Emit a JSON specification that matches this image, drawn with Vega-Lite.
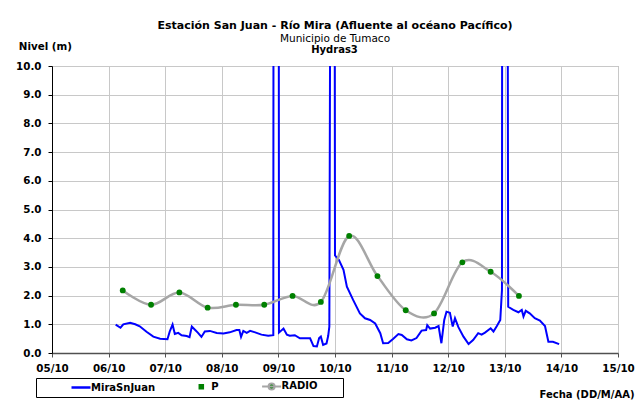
{
  "$schema": "https://vega.github.io/schema/vega-lite/v6.json",
  "width": 566,
  "height": 287,
  "autosize": {"type": "none"},
  "padding": {"left": 52, "top": 66, "right": 25, "bottom": 53},
  "background": "white",
  "title": {
    "text": "Estación San Juan  - Río Mira (Afluente al océano Pacífico)",
    "subtitle": "Municipio de Tumaco",
    "anchor": "middle",
    "frame": "group",
    "offset": -3,
    "font": "DejaVu Sans",
    "fontSize": 11,
    "fontWeight": "bold",
    "color": "#000000",
    "subtitleFont": "DejaVu Sans",
    "subtitleFontSize": 10.5,
    "subtitleColor": "#000000",
    "subtitlePadding": 3
  },
  "data": {
    "values": [
      {"serie": "MiraSnJuan", "dia": 6.125, "nivel": 0.99},
      {"serie": "MiraSnJuan", "dia": 6.21, "nivel": 0.88},
      {"serie": "MiraSnJuan", "dia": 6.26, "nivel": 1.0},
      {"serie": "MiraSnJuan", "dia": 6.38, "nivel": 1.05},
      {"serie": "MiraSnJuan", "dia": 6.47, "nivel": 1.0},
      {"serie": "MiraSnJuan", "dia": 6.55, "nivel": 0.93},
      {"serie": "MiraSnJuan", "dia": 6.67, "nivel": 0.74},
      {"serie": "MiraSnJuan", "dia": 6.79, "nivel": 0.57},
      {"serie": "MiraSnJuan", "dia": 6.91, "nivel": 0.5},
      {"serie": "MiraSnJuan", "dia": 7.04, "nivel": 0.48},
      {"serie": "MiraSnJuan", "dia": 7.08, "nivel": 0.75},
      {"serie": "MiraSnJuan", "dia": 7.13, "nivel": 0.99},
      {"serie": "MiraSnJuan", "dia": 7.17, "nivel": 0.66},
      {"serie": "MiraSnJuan", "dia": 7.23, "nivel": 0.7},
      {"serie": "MiraSnJuan", "dia": 7.29, "nivel": 0.62},
      {"serie": "MiraSnJuan", "dia": 7.38, "nivel": 0.59},
      {"serie": "MiraSnJuan", "dia": 7.43, "nivel": 0.55},
      {"serie": "MiraSnJuan", "dia": 7.47, "nivel": 0.92},
      {"serie": "MiraSnJuan", "dia": 7.53, "nivel": 0.8},
      {"serie": "MiraSnJuan", "dia": 7.58, "nivel": 0.7},
      {"serie": "MiraSnJuan", "dia": 7.64, "nivel": 0.56},
      {"serie": "MiraSnJuan", "dia": 7.7, "nivel": 0.75},
      {"serie": "MiraSnJuan", "dia": 7.79, "nivel": 0.77},
      {"serie": "MiraSnJuan", "dia": 7.91, "nivel": 0.7},
      {"serie": "MiraSnJuan", "dia": 8.03, "nivel": 0.68},
      {"serie": "MiraSnJuan", "dia": 8.14, "nivel": 0.72},
      {"serie": "MiraSnJuan", "dia": 8.26, "nivel": 0.8},
      {"serie": "MiraSnJuan", "dia": 8.31, "nivel": 0.8},
      {"serie": "MiraSnJuan", "dia": 8.34, "nivel": 0.56},
      {"serie": "MiraSnJuan", "dia": 8.38, "nivel": 0.77},
      {"serie": "MiraSnJuan", "dia": 8.44, "nivel": 0.7},
      {"serie": "MiraSnJuan", "dia": 8.5, "nivel": 0.77},
      {"serie": "MiraSnJuan", "dia": 8.59, "nivel": 0.72},
      {"serie": "MiraSnJuan", "dia": 8.7, "nivel": 0.64},
      {"serie": "MiraSnJuan", "dia": 8.82, "nivel": 0.6},
      {"serie": "MiraSnJuan", "dia": 8.91, "nivel": 0.62},
      {"serie": "MiraSnJuan", "dia": 8.915, "nivel": 20},
      {"serie": "MiraSnJuan", "dia": 9.005, "nivel": 20},
      {"serie": "MiraSnJuan", "dia": 9.01, "nivel": 0.71},
      {"serie": "MiraSnJuan", "dia": 9.09, "nivel": 0.85},
      {"serie": "MiraSnJuan", "dia": 9.15, "nivel": 0.64},
      {"serie": "MiraSnJuan", "dia": 9.2, "nivel": 0.6},
      {"serie": "MiraSnJuan", "dia": 9.29, "nivel": 0.62},
      {"serie": "MiraSnJuan", "dia": 9.38, "nivel": 0.51},
      {"serie": "MiraSnJuan", "dia": 9.56, "nivel": 0.51},
      {"serie": "MiraSnJuan", "dia": 9.62, "nivel": 0.24},
      {"serie": "MiraSnJuan", "dia": 9.68, "nivel": 0.23},
      {"serie": "MiraSnJuan", "dia": 9.72, "nivel": 0.52},
      {"serie": "MiraSnJuan", "dia": 9.75, "nivel": 0.57},
      {"serie": "MiraSnJuan", "dia": 9.79, "nivel": 0.28},
      {"serie": "MiraSnJuan", "dia": 9.85, "nivel": 0.33},
      {"serie": "MiraSnJuan", "dia": 9.88, "nivel": 0.6},
      {"serie": "MiraSnJuan", "dia": 9.9, "nivel": 0.92},
      {"serie": "MiraSnJuan", "dia": 9.925, "nivel": 20},
      {"serie": "MiraSnJuan", "dia": 9.99, "nivel": 20},
      {"serie": "MiraSnJuan", "dia": 10.0, "nivel": 3.4},
      {"serie": "MiraSnJuan", "dia": 10.07, "nivel": 3.24},
      {"serie": "MiraSnJuan", "dia": 10.15, "nivel": 2.9},
      {"serie": "MiraSnJuan", "dia": 10.21, "nivel": 2.31},
      {"serie": "MiraSnJuan", "dia": 10.32, "nivel": 1.85},
      {"serie": "MiraSnJuan", "dia": 10.44, "nivel": 1.38},
      {"serie": "MiraSnJuan", "dia": 10.53, "nivel": 1.21},
      {"serie": "MiraSnJuan", "dia": 10.62, "nivel": 1.15},
      {"serie": "MiraSnJuan", "dia": 10.71, "nivel": 1.03},
      {"serie": "MiraSnJuan", "dia": 10.8, "nivel": 0.69},
      {"serie": "MiraSnJuan", "dia": 10.85, "nivel": 0.34},
      {"serie": "MiraSnJuan", "dia": 10.94, "nivel": 0.35},
      {"serie": "MiraSnJuan", "dia": 11.03, "nivel": 0.5},
      {"serie": "MiraSnJuan", "dia": 11.12, "nivel": 0.66},
      {"serie": "MiraSnJuan", "dia": 11.18, "nivel": 0.63},
      {"serie": "MiraSnJuan", "dia": 11.27, "nivel": 0.48},
      {"serie": "MiraSnJuan", "dia": 11.35, "nivel": 0.44},
      {"serie": "MiraSnJuan", "dia": 11.44, "nivel": 0.52},
      {"serie": "MiraSnJuan", "dia": 11.53, "nivel": 0.78},
      {"serie": "MiraSnJuan", "dia": 11.61, "nivel": 0.8},
      {"serie": "MiraSnJuan", "dia": 11.63, "nivel": 0.97},
      {"serie": "MiraSnJuan", "dia": 11.68, "nivel": 0.85},
      {"serie": "MiraSnJuan", "dia": 11.77, "nivel": 0.88},
      {"serie": "MiraSnJuan", "dia": 11.83, "nivel": 0.94},
      {"serie": "MiraSnJuan", "dia": 11.86, "nivel": 0.57},
      {"serie": "MiraSnJuan", "dia": 11.88, "nivel": 0.34},
      {"serie": "MiraSnJuan", "dia": 11.93, "nivel": 1.15},
      {"serie": "MiraSnJuan", "dia": 11.97, "nivel": 1.44},
      {"serie": "MiraSnJuan", "dia": 12.03, "nivel": 1.4},
      {"serie": "MiraSnJuan", "dia": 12.08, "nivel": 0.92},
      {"serie": "MiraSnJuan", "dia": 12.12, "nivel": 1.21},
      {"serie": "MiraSnJuan", "dia": 12.18, "nivel": 0.9},
      {"serie": "MiraSnJuan", "dia": 12.27, "nivel": 0.57},
      {"serie": "MiraSnJuan", "dia": 12.36, "nivel": 0.31},
      {"serie": "MiraSnJuan", "dia": 12.44, "nivel": 0.45},
      {"serie": "MiraSnJuan", "dia": 12.53, "nivel": 0.69},
      {"serie": "MiraSnJuan", "dia": 12.59, "nivel": 0.64},
      {"serie": "MiraSnJuan", "dia": 12.65, "nivel": 0.71},
      {"serie": "MiraSnJuan", "dia": 12.75, "nivel": 0.86},
      {"serie": "MiraSnJuan", "dia": 12.8, "nivel": 0.75},
      {"serie": "MiraSnJuan", "dia": 12.86, "nivel": 0.94},
      {"serie": "MiraSnJuan", "dia": 12.92, "nivel": 1.15},
      {"serie": "MiraSnJuan", "dia": 12.95, "nivel": 2.2},
      {"serie": "MiraSnJuan", "dia": 12.955, "nivel": 20},
      {"serie": "MiraSnJuan", "dia": 13.045, "nivel": 20},
      {"serie": "MiraSnJuan", "dia": 13.06, "nivel": 1.61},
      {"serie": "MiraSnJuan", "dia": 13.15, "nivel": 1.5},
      {"serie": "MiraSnJuan", "dia": 13.24, "nivel": 1.42},
      {"serie": "MiraSnJuan", "dia": 13.3, "nivel": 1.5},
      {"serie": "MiraSnJuan", "dia": 13.33, "nivel": 1.27},
      {"serie": "MiraSnJuan", "dia": 13.37, "nivel": 1.47},
      {"serie": "MiraSnJuan", "dia": 13.44, "nivel": 1.38},
      {"serie": "MiraSnJuan", "dia": 13.53, "nivel": 1.21},
      {"serie": "MiraSnJuan", "dia": 13.62, "nivel": 1.13},
      {"serie": "MiraSnJuan", "dia": 13.71, "nivel": 0.94},
      {"serie": "MiraSnJuan", "dia": 13.77, "nivel": 0.39},
      {"serie": "MiraSnJuan", "dia": 13.85, "nivel": 0.39},
      {"serie": "MiraSnJuan", "dia": 13.96, "nivel": 0.31},
      {"serie": "RADIO", "dia": 6.25, "nivel": 2.18},
      {"serie": "RADIO", "dia": 6.75, "nivel": 1.68},
      {"serie": "RADIO", "dia": 7.25, "nivel": 2.11},
      {"serie": "RADIO", "dia": 7.75, "nivel": 1.58},
      {"serie": "RADIO", "dia": 8.25, "nivel": 1.68},
      {"serie": "RADIO", "dia": 8.75, "nivel": 1.68},
      {"serie": "RADIO", "dia": 9.25, "nivel": 1.99},
      {"serie": "RADIO", "dia": 9.75, "nivel": 1.78},
      {"serie": "RADIO", "dia": 10.25, "nivel": 4.08},
      {"serie": "RADIO", "dia": 10.75, "nivel": 2.68},
      {"serie": "RADIO", "dia": 11.25, "nivel": 1.49},
      {"serie": "RADIO", "dia": 11.75, "nivel": 1.38},
      {"serie": "RADIO", "dia": 12.25, "nivel": 3.16},
      {"serie": "RADIO", "dia": 12.75, "nivel": 2.83},
      {"serie": "RADIO", "dia": 13.25, "nivel": 1.99}
    ]
  },
  "encoding": {
    "y": {
      "field": "nivel", "type": "quantitative",
      "scale": {"domain": [0, 10], "nice": false},
      "axis": {
        "values": [0, 1, 2, 3, 4, 5, 6, 7, 8, 9, 10],
        "format": ".1f",
        "labelFlush": false,
        "labelPadding": 7,
        "domainColor": "#000000",
        "tickColor": "#000000",
        "tickSize": 4,
        "grid": true,
        "title": "Nivel (m)",
        "titleAngle": 0,
        "titleX": -33.7,
        "titleY": -16.7,
        "titleAlign": "left",
        "titleBaseline": "alphabetic"
      }
    }
  },
  "layer": [
    {
      "transform": [{"filter": "datum.serie === 'MiraSnJuan'"}],
      "mark": {"type": "line", "clip": true, "strokeWidth": 2},
      "encoding": {
        "x": {
          "field": "dia", "type": "quantitative",
          "scale": {"domain": [5, 15], "nice": false, "zero": false},
          "axis": {
            "orient": "bottom",
            "values": [5, 6, 7, 8, 9, 10, 11, 12, 13, 14, 15],
            "labelExpr": "(datum.value < 10 ? '0' : '') + datum.value + '/10'",
            "labelFlush": false,
            "labelOverlap": false,
            "labelPadding": 6,
            "domainColor": "#505050",
            "domainWidth": 1.5,
            "tickColor": "#505050",
            "tickWidth": 1,
            "tickSize": 4,
            "grid": true,
            "title": "Fecha (DD/M/AA)",
            "titleFontSize": 10,
            "titleX": 582,
            "titleY": 44.7,
            "titleAlign": "right",
            "titleBaseline": "alphabetic"
          }
        },
        "color": {
          "field": "serie", "type": "nominal",
          "scale": {"domain": ["MiraSnJuan", "P", "RADIO"], "range": ["#0000FF", "#008000", "#A6A6A6"]},
          "legend": {
            "orient": "none",
            "legendX": -16,
            "legendY": 312,
            "direction": "horizontal",
            "title": "\u00a0",
            "titleOrient": "left",
            "titlePadding": 37,
            "titleFontSize": 10,
            "padding": 3,
            "strokeColor": "#000000",
            "fillColor": "#FFFFFF",
            "symbolStrokeWidth": 2.5,
            "labelFont": "DejaVu Sans",
            "labelFontWeight": "bold",
            "labelFontSize": 10,
            "labelColor": "#000000",
            "labelOffset": 5,
            "columnPadding": 38.3,
            "labelExpr": "datum.label === 'RADIO' ? 'RADIO\u00a0\u00a0\u00a0\u00a0\u2800' : datum.label",
            "encode": {
              "symbols": {
                "update": {
                  "shape": {"signal": "datum.value === 'P' ? 'M-0.16,-0.16H0.16V0.16H-0.16Z' : datum.value === 'RADIO' ? 'M-1,0H1M-0.32,0A0.32,0.32,0,1,0,0.32,0A0.32,0.32,0,1,0,-0.32,0Z' : 'M-1,0H1'"},
                  "size": {"value": 361},
                  "fill": {"signal": "datum.value === 'MiraSnJuan' ? 'transparent' : '#008000'"},
                  "stroke": {"signal": "datum.value === 'P' ? 'transparent' : datum.value === 'RADIO' ? '#A6A6A6' : '#0000FF'"},
                  "strokeWidth": {"signal": "datum.value === 'RADIO' ? 2 : 2.5"},
                  "opacity": {"value": 1}
                }
              }
            }
          }
        }
      }
    },
    {
      "transform": [{"filter": "datum.serie === 'RADIO'"}],
      "mark": {"type": "line", "interpolate": "cardinal", "strokeWidth": 2.5},
      "encoding": {
        "x": {"field": "dia", "type": "quantitative", "axis": null},
        "color": {"field": "serie", "type": "nominal"}
      }
    },
    {
      "transform": [{"filter": "datum.serie === 'RADIO'"}],
      "mark": {"type": "point", "filled": true, "size": 34, "opacity": 1, "color": "#008000"},
      "encoding": {
        "x": {
          "field": "dia", "type": "quantitative",
          "axis": {
            "orient": "top",
            "title": "Hydras3",
            "domain": false,
            "ticks": false,
            "labels": false,
            "grid": false,
            "titleFontSize": 10,
            "titleX": 282,
            "titleY": -14,
            "titleAlign": "center",
            "titleBaseline": "alphabetic"
          }
        }
      }
    }
  ],
  "resolve": {"axis": {"x": "independent"}},
  "config": {
    "font": "DejaVu Sans",
    "view": {"stroke": "#A0A0A0", "strokeWidth": 1},
    "axis": {
      "labelFont": "DejaVu Sans",
      "labelFontWeight": "bold",
      "labelFontSize": 10.3,
      "labelColor": "#000000",
      "titleFont": "DejaVu Sans",
      "titleFontWeight": "bold",
      "titleFontSize": 10.3,
      "titleColor": "#000000",
      "gridColor": "#C8C8C8",
      "gridWidth": 1
    }
  }
}
